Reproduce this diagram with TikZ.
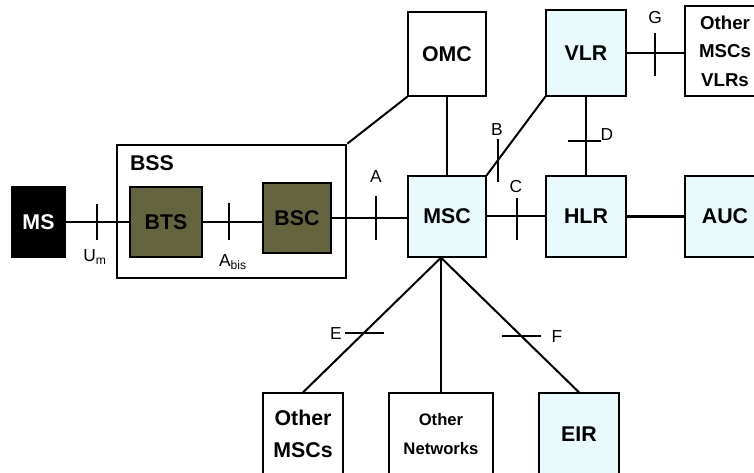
\documentclass[tikz,border=0pt]{standalone}
\usepackage{fontspec}
\setmainfont{Liberation Sans}
\usetikzlibrary{positioning}
\definecolor{bssolive}{RGB}{100,100,62}
\definecolor{dbcyan}{RGB}{232,250,252}

\begin{document}
\begin{tikzpicture} [
	x=0.75pt, y=-0.75pt, % one unit is one pixel of the reference, y goes down
	line width=1.5pt, % the connectors
	unit/.style={draw, line width=1pt, fill=white, inner sep=0pt, align=center, font=\fontsize{16}{19}\selectfont\bfseries}, % plain boxes
	db/.style={unit, fill=dbcyan}, % MSC, registers
	radio/.style={unit, fill=bssolive}, % BTS and BSC
	iface/.style={font=\fontsize{13}{15}\selectfont}, % interface letters
	]
	\useasboundingbox (0,0) rectangle (754,473);
	\clip (0,0) rectangle (754,473);

	% base station subsystem
	\node[draw, line width=2pt, minimum width=171.75pt, minimum height=99.75pt] (bss) at (231.5,211.5) {};
	\node[font=\fontsize{16}{19}\selectfont\bfseries] (bsslabel) at (152,163) {BSS};
	\node[unit, fill=black, text=white, minimum width=39.75pt, minimum height=53.25pt] (ms) at (38.5,222) {MS};
	\node[radio, minimum width=54pt, minimum height=52.5pt] (bts) at (166,222) {BTS};
	\node[radio, minimum width=51pt, minimum height=52.5pt] (bsc) at (297,218) {BSC};

	% switching part
	\node[unit, minimum width=58.5pt, minimum height=63pt] (omc) at (447,54) {OMC};
	\node[db, minimum width=60pt, minimum height=64.5pt] (vlr) at (586,53) {VLR};
	\node[unit, minimum width=60pt, minimum height=67.5pt, font=\fontsize{14}{21.4}\selectfont\bfseries] (othvlr) at (725,51) {Other\\MSCs\\VLRs};
	\node[db, minimum width=58.5pt, minimum height=60.75pt] (msc) at (447,216.5) {MSC};
	\node[db, minimum width=60pt, minimum height=60.75pt] (hlr) at (586,216.5) {HLR};
	\node[db, minimum width=60pt, minimum height=60.75pt] (auc) at (725,216.5) {AUC};

	% bottom row, cut off by the page
	\node[unit, minimum width=60pt, minimum height=61.5pt, font=\fontsize{16}{24}\selectfont\bfseries] (othmsc) at (303,434) {Other\\MSCs};
	\node[unit, minimum width=78pt, minimum height=61.5pt, font=\fontsize{12.5}{22}\selectfont\bfseries] (othnet) at (441,434) {Other\\Networks};
	\node[db, minimum width=60pt, minimum height=61.5pt] (eir) at (579,434) {EIR};

	% connectors
	\draw (ms) -- coordinate[pos=0.55] (um) (bts);
	\draw (bts.east) -- (bts.east -| bsc.west);
	\draw (bsc.east) -- (bsc.east -| msc.west);
	\draw (omc.south west) -- (bss.north east);
	\draw (omc) -- (msc);
	\draw (msc.north east) -- coordinate[pos=0.2] (b) (vlr.south west);
	\draw (vlr) -- (hlr);
	\draw (vlr.east) -- (vlr.east -| othvlr.west);
	\draw (msc) -- (hlr);
	\draw[line width=2.8pt] (hlr) -- (auc);
	\coordinate (hub) at (msc.south -| othnet.north);
	\draw (hub) -- coordinate[pos=0.56] (e) (othmsc.north);
	\draw (hub) -- (othnet.north);
	\draw (hub) -- coordinate[pos=0.585] (f) (eir.north);

	% interface ticks
	\coordinate (abis) at (229,222);
	\coordinate (a) at (376,218);
	\coordinate (c) at (517,218);
	\coordinate (d) at (586,141);
	\coordinate (g) at (655,55);
	\draw (97,204) -- (97,240);
	\draw (abis) ++(0,-19) -- ++(0,37);
	\draw (a) ++(0,-22) -- ++(0,44);
	\draw (c) ++(0,-20) -- ++(0,42);
	\draw (b) ++(0,-21) -- ++(0,43);
	\draw (d) ++(-18,0) -- ++(33,0);
	\draw (g) ++(0,-22) -- ++(0,43);
	\draw (e) ++(-19,0) -- ++(39,0);
	\draw (f) ++(-20,0) -- ++(39,0);

	% interface names
	\node[iface] (umlabel) at (95,257) {U\textsubscript{m}};
	\node[iface] (abislabel) at (233,262) {A\textsubscript{bis}};
	\node[iface] (alabel) at (376,177) {A};
	\node[iface] (blabel) at (497,130) {B};
	\node[iface] (clabel) at (516,187) {C};
	\node[iface] (dlabel) at (607,135) {D};
	\node[iface] (glabel) at (655,18) {G};
	\node[iface] (elabel) at (336,334) {E};
	\node[iface] (flabel) at (557,337) {F};
\end{tikzpicture}
\end{document}
